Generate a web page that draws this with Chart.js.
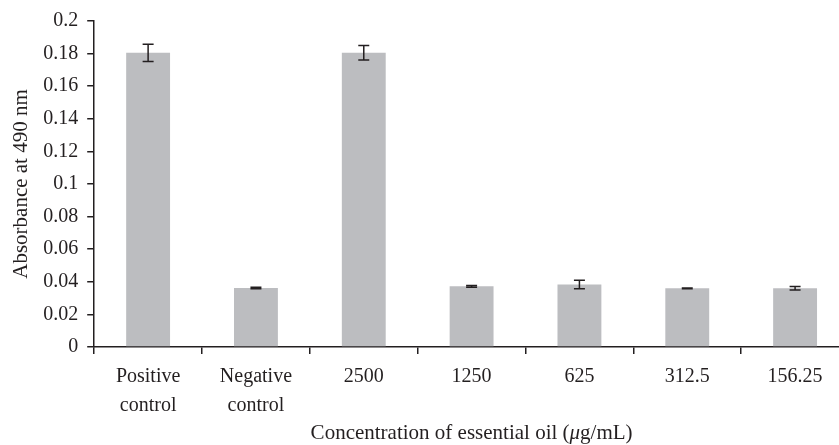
<!DOCTYPE html>
<html>
<head>
<meta charset="utf-8">
<script src="https://cdn.jsdelivr.net/npm/chart.js@4"></script>
<style>
    html, body { margin: 0; padding: 0; overflow: hidden; background: #fff; }
    /* canvas is a bit wider than the window: the last category runs past the right edge */
    #wrap { width: 850px; height: 445px; position: relative; }
</style>
</head>
<body>
<div id="wrap"><canvas id="absChart"></canvas></div>
<script>
// Data
const categories = [['Positive', 'control'], ['Negative', 'control'], '2500', '1250', '625', '312.5', '156.25'];
const absorbance = [0.1805, 0.0362, 0.1805, 0.0372, 0.0384, 0.0360, 0.0360];
const errors = [0.0053, 0.0005, 0.0045, 0.0006, 0.0026, 0.0002, 0.0011];
const yTickValues = [0, 0.02, 0.04, 0.06, 0.08, 0.1, 0.12, 0.14, 0.16, 0.18, 0.2];

const INK = '#231f20';
const FONT = "'Liberation Serif', 'Times New Roman', serif";

// Error bars drawn from the y scale
const errorBarPlugin = {
    id: 'errorBars',
    afterDatasetsDraw(chart) {
        const { ctx } = chart;
        const y = chart.scales.y;
        const meta = chart.getDatasetMeta(0);
        ctx.save();
        ctx.strokeStyle = INK;
        ctx.lineWidth = 1.5;
        meta.data.forEach((bar, i) => {
            const top = y.getPixelForValue(absorbance[i] + errors[i]);
            const bot = y.getPixelForValue(absorbance[i] - errors[i]);
            const cx = bar.x;
            const hw = 5.5;
            ctx.beginPath();
            ctx.moveTo(cx, top);
            ctx.lineTo(cx, bot);
            ctx.moveTo(cx - hw, top);
            ctx.lineTo(cx + hw, top);
            ctx.moveTo(cx - hw, bot);
            ctx.lineTo(cx + hw, bot);
            ctx.stroke();
        });
        ctx.restore();
    }
};

// x axis title with an italic mu
const xTitlePlugin = {
    id: 'xTitle',
    afterDraw(chart) {
        const { ctx, chartArea } = chart;
        const parts = [
            { text: 'Concentration of essential oil (', style: '' },
            { text: 'μ', style: 'italic ' },
            { text: 'g/mL)', style: '' }
        ];
        ctx.save();
        ctx.fillStyle = INK;
        ctx.textBaseline = 'alphabetic';
        ctx.textAlign = 'left';
        let total = 0;
        parts.forEach(p => {
            ctx.font = p.style + '21px ' + FONT;
            p.w = ctx.measureText(p.text).width;
            total += p.w;
        });
        let x = (chartArea.left + chartArea.right) / 2 - total / 2;
        parts.forEach(p => {
            ctx.font = p.style + '21px ' + FONT;
            ctx.fillText(p.text, x, 439);
            x += p.w;
        });
        ctx.restore();
    }
};

const chart = new Chart(document.getElementById('absChart'), {
    type: 'bar',
    data: {
        labels: categories,
        datasets: [{
            data: absorbance,
            backgroundColor: '#bcbdc0',
            borderWidth: 0,
            barPercentage: 0.407,
            categoryPercentage: 1
        }]
    },
    options: {
        responsive: true,
        maintainAspectRatio: false,
        animation: false,
        plugins: {
            legend: { display: false },
            tooltip: { enabled: false }
        },
        layout: {
            padding: { top: 6, right: 1, bottom: 17, left: 9 }
        },
        scales: {
            x: {
                grid: {
                    display: true,
                    drawOnChartArea: false,
                    offset: true,
                    tickLength: 7,
                    color: INK,
                    lineWidth: 1.5
                },
                border: { display: true, color: INK, width: 1.5 },
                ticks: {
                    color: INK,
                    padding: 8,
                    maxRotation: 0,
                    autoSkip: false,
                    font: { family: FONT, size: 20, lineHeight: 1.45 }
                }
            },
            y: {
                min: 0,
                max: 0.2,
                afterBuildTicks: scale => {
                    scale.ticks = yTickValues.map(v => ({ value: v }));
                },
                grid: {
                    display: true,
                    drawOnChartArea: false,
                    tickLength: 7,
                    color: INK,
                    lineWidth: 1.5
                },
                border: { display: true, color: INK, width: 1.5 },
                ticks: {
                    color: INK,
                    padding: 9,
                    font: { family: FONT, size: 20 },
                    callback: v => String(parseFloat(Number(v).toFixed(2)))
                },
                title: {
                    display: true,
                    text: 'Absorbance at 490 nm',
                    color: INK,
                    padding: { top: 0, bottom: 0 },
                    font: { family: FONT, size: 21 }
                }
            }
        }
    },
    plugins: [errorBarPlugin, xTitlePlugin]
});
</script>
</body>
</html>
